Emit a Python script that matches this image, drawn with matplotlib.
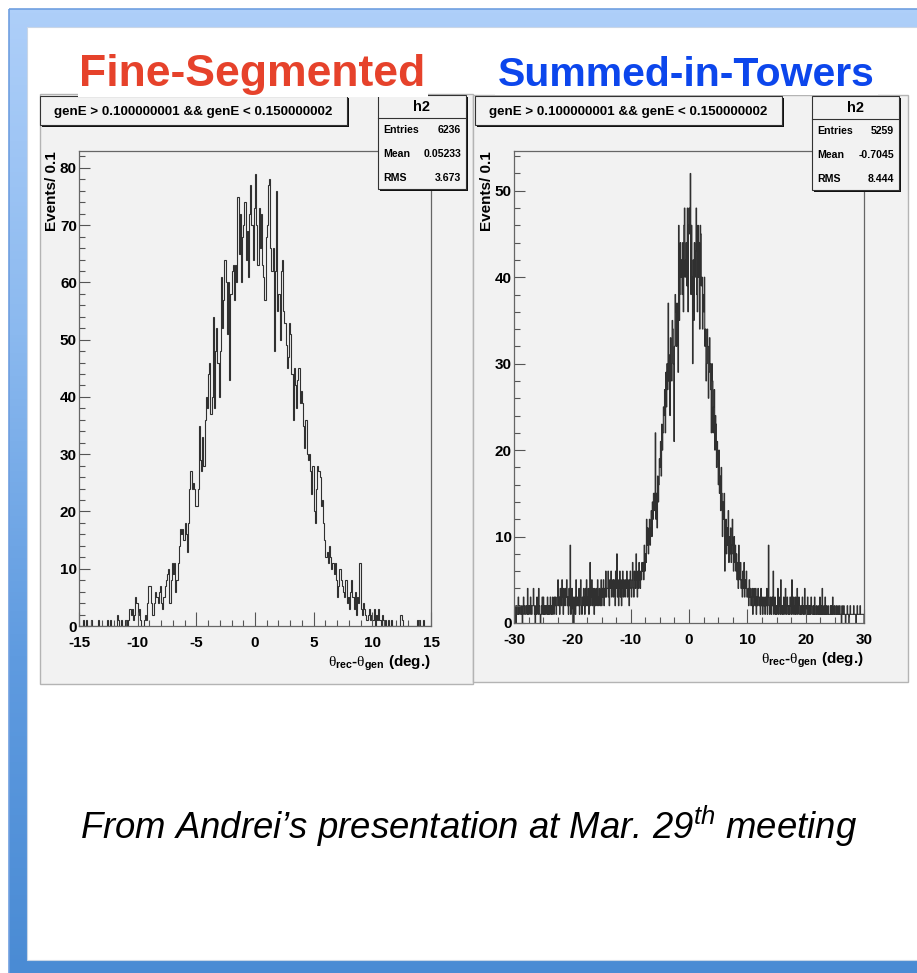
import numpy as np
import matplotlib
matplotlib.use("Agg")
import matplotlib.pyplot as plt
from matplotlib.patches import Rectangle
from matplotlib.colors import LinearSegmentedColormap
from matplotlib.ticker import MultipleLocator

W, H, DPI = 917, 973, 100

plt.rcParams['font.family'] = ['Liberation Sans', 'DejaVu Sans']
plt.rcParams['axes.unicode_minus'] = False
plt.rcParams['mathtext.fontset'] = 'custom'
plt.rcParams['mathtext.rm'] = 'Liberation Serif'
plt.rcParams['mathtext.bf'] = 'Liberation Sans:bold'
plt.rcParams['mathtext.it'] = 'Liberation Sans:italic'

# ---------------------------------------------------------------- data
panel_titles = ["Fine-Segmented", "Summed-in-Towers"]
cut_text = "genE > 0.100000001 && genE < 0.150000002"
hist_name = "h2"
stat_labels = ["Entries", "Mean", "RMS"]
fine_stats = ["6236", "0.05233", "3.673"]
tower_stats = ["5259", "-0.7045", "8.444"]
y_title = "Events/ 0.1"
x_title = r"$\mathrm{\theta}_{\mathbf{rec}}$-$\mathrm{\theta}_{\mathbf{gen}}$ (deg.)"
footer = r"From Andrei’s presentation at Mar. 29$^{\mathit{th}}$ meeting"

# fine-segmented: 0.1-wide bins from -15 to 15
fine_range = (-15.0, 15.0)
fine_counts = [
    0, 0, 0, 1, 0, 0, 1, 0, 0, 0,          # -15
    1, 0, 0, 0, 0, 0, 1, 0, 0, 0,          # -14
    0, 0, 0, 0, 1, 0, 1, 0, 0, 0,          # -13
    0, 0, 2, 1, 0, 0, 1, 0, 0, 1,          # -12
    1, 0, 1, 3, 2, 3, 1, 2, 5, 4,          # -11
    2, 3, 1, 0, 0, 1, 2, 1, 4, 7,          # -10
    7, 4, 2, 2, 4, 6, 5, 4, 6, 7,          # -9
    4, 3, 5, 7, 8, 9, 10, 4, 8, 11,        # -8
    9, 11, 6, 8, 11, 14, 17, 16, 17, 15,   # -7
    18, 16, 13, 18, 24, 27, 24, 25, 24, 21,  # -6
    21, 24, 35, 29, 27, 33, 28, 36, 40, 38,  # -5
    44, 46, 37, 40, 54, 38, 48, 52, 46, 40,  # -4
    48, 61, 52, 57, 64, 60, 51, 60, 43, 58,  # -3
    62, 63, 57, 63, 60, 75, 65, 72, 60, 68,  # -2
    70, 74, 64, 69, 61, 72, 77, 70, 64, 73,  # -1
    79, 70, 63, 73, 66, 72, 63, 61, 57, 68,  # 0
    70, 77, 78, 66, 62, 66, 48, 62, 76, 55,  # 1
    58, 50, 62, 64, 55, 53, 49, 45, 47, 53,  # 2
    51, 44, 36, 45, 42, 38, 43, 45, 39, 41,  # 3
    39, 35, 31, 36, 30, 29, 30, 27, 23, 28,  # 4
    20, 18, 24, 28, 27, 26, 21, 22, 18, 15,  # 5
    12, 13, 11, 14, 12, 10, 11, 9, 11, 8,  # 6
    5, 7, 10, 8, 7, 6, 5, 8, 4, 5,         # 7
    3, 6, 8, 5, 3, 6, 2, 5, 4, 11,         # 8
    3, 2, 4, 3, 2, 1, 2, 3, 1, 2,          # 9
    1, 3, 0, 2, 1, 3, 1, 0, 2, 1,          # 10
    0, 1, 0, 1, 0, 0, 1, 0, 0, 0,          # 11
    0, 0, 0, 0, 2, 1, 0, 0, 0, 0,          # 12
    0, 0, 0, 0, 0, 0, 0, 0, 1, 0,          # 13
    1, 0, 0, 1, 0, 0, 0, 0, 0, 0,          # 14
]

# summed-in-towers: 0.1-wide bins from -30 to 30
tower_range = (-30.0, 30.0)
tower_counts = [
    1, 2, 1, 0, 2, 1, 1, 3, 1, 2,          # -30
    2, 1, 1, 2, 0, 1, 3, 2, 1, 1,          # -29
    2, 2, 1, 4, 1, 2, 2, 1, 3, 2,          # -28
    1, 2, 2, 4, 2, 1, 0, 2, 1, 3,          # -27
    2, 1, 4, 2, 1, 0, 1, 2, 3, 1,          # -26
    3, 1, 2, 1, 2, 2, 1, 3, 1, 2,          # -25
    1, 2, 3, 1, 2, 1, 3, 2, 1, 3,          # -24
    2, 3, 1, 2, 3, 5, 2, 3, 1, 4,          # -23
    3, 2, 5, 3, 1, 4, 3, 2, 4, 3,          # -22
    5, 2, 3, 1, 4, 2, 9, 1, 2, 4,          # -21
    1, 3, 0, 2, 3, 1, 5, 2, 3, 2,          # -20
    2, 4, 1, 3, 5, 2, 1, 3, 2, 4,          # -19
    3, 1, 4, 2, 5, 3, 2, 4, 1, 3,          # -18
    7, 2, 3, 5, 2, 4, 3, 1, 4, 2,          # -17
    3, 4, 2, 5, 3, 2, 4, 3, 2, 5,          # -16
    2, 4, 3, 5, 2, 4, 3, 6, 3, 4,          # -15
    4, 6, 3, 2, 5, 4, 6, 3, 4, 5,          # -14
    3, 5, 4, 2, 6, 4, 8, 3, 5, 2,          # -13
    4, 6, 3, 5, 2, 4, 6, 3, 5, 4,          # -12
    3, 5, 4, 6, 3, 5, 4, 2, 5, 6,          # -11
    4, 3, 5, 7, 4, 3, 6, 5, 4, 8,          # -10
    5, 3, 6, 4, 7, 5, 4, 6, 5, 7,          # -9
    6, 7, 5, 9, 6, 8, 7, 12, 9, 11,        # -8
    8, 10, 12, 9, 11, 13, 10, 14, 12, 15,  # -7
    15, 13, 22, 12, 15, 11, 17, 14, 16, 19,  # -6
    18, 21, 17, 23, 20, 22, 25, 24, 27, 22,  # -5
    29, 25, 30, 27, 37, 28, 31, 24, 33, 30,  # -4
    28, 35, 34, 30, 21, 32, 38, 36, 32, 37,  # -3
    33, 29, 46, 35, 38, 44, 40, 42, 38, 44,  # -2
    36, 46, 48, 40, 42, 44, 39, 48, 36, 46,  # -1
    48, 45, 52, 38, 46, 40, 30, 42, 35, 44,  # 0
    40, 43, 48, 38, 36, 46, 40, 44, 34, 46,  # 1
    45, 39, 40, 34, 38, 36, 40, 32, 34, 28,  # 2
    30, 34, 32, 26, 29, 33, 30, 27, 22, 30,  # 3
    28, 22, 25, 27, 20, 24, 23, 18, 21, 19,  # 4
    16, 20, 15, 17, 13, 18, 15, 10, 14, 12,  # 5
    15, 6, 10, 12, 8, 11, 9, 13, 7, 10,    # 6
    8, 11, 7, 9, 12, 8, 6, 10, 7, 9,       # 7
    6, 8, 5, 7, 4, 9, 6, 5, 7, 4,          # 8
    5, 3, 6, 4, 7, 3, 5, 4, 6, 3,          # 9
    3, 4, 2, 5, 3, 4, 2, 3, 4, 1,          # 10
    2, 4, 3, 2, 4, 1, 3, 2, 4, 3,          # 11
    2, 3, 1, 4, 2, 3, 1, 2, 3, 2,          # 12
    1, 3, 2, 4, 1, 3, 9, 2, 1, 3,          # 13
    2, 1, 3, 2, 6, 1, 2, 3, 1, 2,          # 14
    1, 2, 4, 1, 3, 2, 1, 5, 2, 1,          # 15
    2, 1, 3, 2, 1, 4, 2, 1, 3, 2,          # 16
    1, 2, 1, 3, 2, 1, 5, 2, 1, 3,          # 17
    2, 1, 3, 1, 2, 4, 1, 2, 3, 1,          # 18
    1, 2, 1, 2, 3, 1, 2, 1, 4, 2,          # 19
    1, 2, 1, 3, 1, 2, 1, 2, 1, 3,          # 20
    2, 1, 1, 2, 1, 3, 1, 1, 2, 1,          # 21
    1, 2, 1, 1, 3, 1, 2, 1, 4, 1,          # 22
    1, 2, 1, 3, 1, 2, 1, 1, 2, 1,          # 23
    1, 1, 2, 1, 2, 1, 3, 1, 1, 2,          # 24
    1, 1, 2, 1, 1, 2, 1, 1, 2, 1,          # 25
    1, 0, 2, 1, 1, 2, 1, 1, 0, 1,          # 26
    1, 2, 1, 1, 0, 1, 2, 1, 1, 1,          # 27
    1, 1, 2, 1, 1, 1, 0, 1, 2, 1,          # 28
    1, 1, 1, 2, 1, 1, 1, 1, 1, 1,          # 29
]

# ---------------------------------------------------------------- figure
fig = plt.figure(figsize=(W / DPI, H / DPI), dpi=DPI)
fig.patch.set_facecolor("white")


def px_rect(x0, y0, x1, y1):
    """Pixel box (top-left origin) -> figure fraction rect."""
    return [x0 / W, 1 - y1 / H, (x1 - x0) / W, (y1 - y0) / H]


def pixel_axes(z):
    a = fig.add_axes([0, 0, 1, 1], zorder=z)
    a.set_axis_off()
    a.patch.set_alpha(0)
    return a


# back layer: slide frame and ROOT canvases
bg = pixel_axes(0)
frame_cmap = LinearSegmentedColormap.from_list(
    "frame", ["#aecff9", "#8bb9ef", "#5f9be0", "#4a8bd4"])
grad = np.linspace(0, 1, 256).reshape(-1, 1)
bg.imshow(grad, cmap=frame_cmap, aspect="auto",
          extent=(9, W + 5, H + 5, 9), zorder=0)
bg.add_patch(Rectangle((9, 9), W, H, fill=False, ec="#6f9fe0", lw=1.2, zorder=1))
bg.add_patch(Rectangle((27, 27), W, 933, fc="white", ec="#c9d6e6", lw=0.8, zorder=2))
bg.set_xlim(0, W)
bg.set_ylim(H, 0)

CANVAS = "#f2f2f2"


def add_rect(layer, x0, y0, x1, y1, **kw):
    layer.add_patch(Rectangle((x0, y0), x1 - x0, y1 - y0, **kw))


panels = [
    dict(canvas=(40, 94, 473, 684), frame=(79, 151, 431, 626),
         counts=fine_counts, rng=fine_range, xmajor=5, xminor=1,
         stats=fine_stats, title_box=(40, 96, 347, 125),
         stats_box=(378, 95, 466, 189), ylab_x=52),
    dict(canvas=(473, 95, 908, 682), frame=(514, 151, 864, 623),
         counts=tower_counts, rng=tower_range, xmajor=10, xminor=2.5,
         stats=tower_stats, title_box=(475, 96, 782, 125),
         stats_box=(812, 96, 899, 190), ylab_x=487),
]

for p in panels:
    add_rect(bg, *p["canvas"], fc=CANVAS, ec="#b4b4b4", lw=1.0, zorder=3)

# middle layer: the histograms
for p in panels:
    fx0, fy0, fx1, fy1 = p["frame"]
    ax = fig.add_axes(px_rect(fx0, fy0, fx1, fy1), zorder=1)
    ax.set_facecolor(CANVAS)
    counts = np.asarray(p["counts"], dtype=float)
    edges = np.linspace(p["rng"][0], p["rng"][1], len(counts) + 1)
    ax.stairs(counts, edges, color="#303030", lw=0.8, baseline=0)
    ax.set_xlim(*p["rng"])
    ax.set_ylim(0, 1.05 * counts.max())
    ax.xaxis.set_major_locator(MultipleLocator(p["xmajor"]))
    ax.xaxis.set_minor_locator(MultipleLocator(p["xminor"]))
    ax.yaxis.set_major_locator(MultipleLocator(10))
    ax.yaxis.set_minor_locator(MultipleLocator(2))
    for s in ax.spines.values():
        s.set_color("#666666")
        s.set_linewidth(0.9)
    ax.tick_params(axis="x", which="major", direction="in", length=10,
                   width=0.8, color="#555555", pad=7, labelsize=11)
    ax.tick_params(axis="x", which="minor", direction="in", length=4.5,
                   width=0.8, color="#555555")
    ax.tick_params(axis="y", which="major", direction="in", length=8,
                   width=0.8, color="#555555", pad=1.5, labelsize=11)
    ax.tick_params(axis="y", which="minor", direction="in", length=4,
                   width=0.8, color="#555555")
    for lab in ax.get_xticklabels() + ax.get_yticklabels():
        lab.set_fontweight("bold")

# front layer: boxes, axis titles, headings
fg = pixel_axes(2)
fg.set_xlim(0, W)
fg.set_ylim(H, 0)


def shadow_box(x0, y0, x1, y1):
    add_rect(fg, x0 + 2, y0 + 2, x1 + 2, y1 + 2, fc="#111111", ec="none", zorder=5)
    add_rect(fg, x0, y0, x1, y1, fc=CANVAS, ec="#333333", lw=0.8, zorder=5.1)


for p in panels:
    fx0, fy0, fx1, fy1 = p["frame"]
    fg.text(p["ylab_x"], fy0, y_title, rotation=90, ha="center", va="top",
            fontsize=11, fontweight="bold", zorder=6)
    fg.text(fx1, fy1 + 37, x_title, ha="right", va="center",
            fontsize=11, fontweight="bold", zorder=6)

    tx0, ty0, tx1, ty1 = p["title_box"]
    shadow_box(tx0, ty0, tx1, ty1)
    fg.text((tx0 + tx1) / 2, (ty0 + ty1) / 2 + 1, cut_text, ha="center",
            va="center", fontsize=9.6, fontweight="bold", zorder=7)

    sx0, sy0, sx1, sy1 = p["stats_box"]
    shadow_box(sx0, sy0, sx1, sy1)
    fg.plot([sx0, sx1], [sy0 + 23, sy0 + 23], color="#333333", lw=0.8, zorder=7)
    fg.text((sx0 + sx1) / 2, sy0 + 12, hist_name, ha="center", va="center",
            fontsize=10.5, fontweight="bold", zorder=7)
    for i, (lab, val) in enumerate(zip(stat_labels, p["stats"])):
        yy = sy0 + 35 + 24 * i
        fg.text(sx0 + 5, yy, lab, ha="left", va="center", fontsize=7.6,
                fontweight="bold", zorder=7)
        fg.text(sx1 - 5, yy, val, ha="right", va="center", fontsize=7.6,
                fontweight="bold", zorder=7)

# white backing of the slide headings, overlapping the canvases
add_rect(fg, 78, 40, 428, 97, fc="white", ec="none", zorder=8)
add_rect(fg, 495, 40, 878, 95, fc="white", ec="none", zorder=8)

fg.text(252, 86, panel_titles[0], ha="center", va="baseline", fontsize=32,
        fontweight="bold", color="#e6422b", zorder=9)
fg.text(686, 86, panel_titles[1], ha="center", va="baseline", fontsize=29.5,
        fontweight="bold", color="#0c46ec", zorder=9)

fg.text(468, 826, footer, ha="center", va="center", fontsize=26.3,
        style="italic", color="black", zorder=9)

fig.savefig("out.png", dpi=DPI, facecolor="white")
